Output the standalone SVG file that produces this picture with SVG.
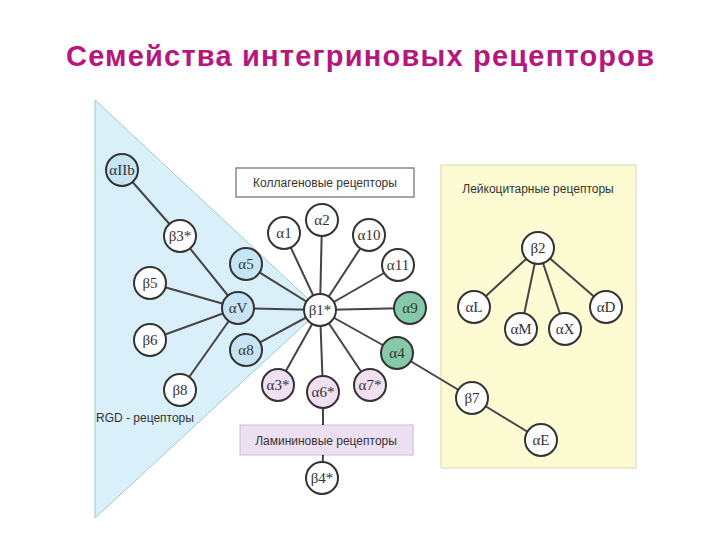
<svg xmlns="http://www.w3.org/2000/svg" width="720" height="540" viewBox="0 0 720 540">
<style>
.n circle{stroke:#333;stroke-width:2;fill:#fff}
.b circle{fill:#c6e4f4}
.g circle{fill:#86c9a9}
.p circle{fill:#f1dff2}
.n text{font-family:"Liberation Serif",serif;font-size:15px;text-anchor:middle;fill:#333}
.lbl{font-family:"Liberation Sans",sans-serif;font-size:12px;fill:#333}
#edges line{stroke:#444;stroke-width:2}
</style>
<rect width="720" height="540" fill="#fff"/>
<text x="360" y="66" text-anchor="middle" font-family="Liberation Sans,sans-serif" font-weight="bold" font-size="29" fill="#b5177c" textLength="588">Семейства интегриновых рецепторов</text>
<polygon points="95,100 320,310 95,518" fill="#d9effa" stroke="#9fc9c9" stroke-width="1"/>
<rect x="441" y="165" width="195" height="303" fill="#fdfbd2" stroke="#d8d8b8"/>
<g id="collagen"><rect x="236" y="168" width="178" height="29" fill="#fff" stroke="#888" stroke-width="1.5"/><text class="lbl" x="325" y="187" text-anchor="middle">Коллагеновые рецепторы</text></g>
<g id="laminin"><rect x="240" y="425" width="173" height="30" fill="#ece0f2" stroke="#cbbcd6"/><text class="lbl" x="326" y="445" text-anchor="middle">Ламининовые рецепторы</text></g>
<text class="lbl" x="538" y="193" text-anchor="middle">Лейкоцитарные рецепторы</text>
<text class="lbl" x="96" y="422">RGD - рецепторы</text>
<g id="edges">
<line x1="122" y1="170" x2="180" y2="236"/><line x1="180" y1="236" x2="238" y2="308"/>
<line x1="150" y1="283" x2="238" y2="308"/><line x1="150" y1="340" x2="238" y2="308"/>
<line x1="180" y1="390" x2="238" y2="308"/><line x1="238" y1="308" x2="320" y2="310"/>
<line x1="246" y1="264" x2="320" y2="310"/><line x1="246" y1="350" x2="320" y2="310"/>
<line x1="284" y1="233" x2="320" y2="310"/><line x1="322" y1="220" x2="320" y2="310"/>
<line x1="369" y1="235" x2="320" y2="310"/><line x1="398" y1="265" x2="320" y2="310"/>
<line x1="410" y1="308" x2="320" y2="310"/><line x1="397" y1="353" x2="320" y2="310"/>
<line x1="278" y1="385" x2="320" y2="310"/><line x1="323" y1="392" x2="320" y2="310"/>
<line x1="370" y1="385" x2="320" y2="310"/><line x1="323" y1="392" x2="323" y2="425"/>
<line x1="323" y1="455" x2="322" y2="478"/>
<line x1="397" y1="353" x2="472" y2="398"/><line x1="472" y1="398" x2="541" y2="440"/>
<line x1="538" y1="248" x2="474" y2="307"/><line x1="538" y1="248" x2="521" y2="329"/>
<line x1="538" y1="248" x2="565" y2="329"/><line x1="538" y1="248" x2="606" y2="307"/>
</g>
<g id="aIIb" class="n b"><circle cx="122" cy="170" r="16"/><text x="122" y="175" font-size="12">αIIb</text></g>
<g id="b3" class="n"><circle cx="180" cy="236" r="16"/><text x="180" y="241">β3*</text></g>
<g id="b5" class="n"><circle cx="150" cy="283" r="16"/><text x="150" y="288">β5</text></g>
<g id="b6" class="n"><circle cx="150" cy="340" r="16"/><text x="150" y="345">β6</text></g>
<g id="b8" class="n"><circle cx="180" cy="390" r="16"/><text x="180" y="395">β8</text></g>
<g id="aV" class="n b"><circle cx="238" cy="308" r="16"/><text x="238" y="313">αV</text></g>
<g id="a5" class="n b"><circle cx="246" cy="264" r="16"/><text x="246" y="269">α5</text></g>
<g id="a8" class="n b"><circle cx="246" cy="350" r="16"/><text x="246" y="355">α8</text></g>
<g id="b1" class="n"><circle cx="320" cy="310" r="16"/><text x="320" y="315">β1*</text></g>
<g id="a1" class="n"><circle cx="284" cy="233" r="16"/><text x="284" y="238">α1</text></g>
<g id="a2" class="n"><circle cx="322" cy="220" r="16"/><text x="322" y="225">α2</text></g>
<g id="a10" class="n"><circle cx="369" cy="235" r="16"/><text x="369" y="240">α10</text></g>
<g id="a11" class="n"><circle cx="398" cy="265" r="16"/><text x="398" y="270">α11</text></g>
<g id="a9" class="n g"><circle cx="410" cy="308" r="16"/><text x="410" y="313">α9</text></g>
<g id="a4" class="n g"><circle cx="397" cy="353" r="16"/><text x="397" y="358">α4</text></g>
<g id="a3" class="n p"><circle cx="278" cy="385" r="16"/><text x="278" y="390">α3*</text></g>
<g id="a6" class="n p"><circle cx="323" cy="392" r="16"/><text x="323" y="397">α6*</text></g>
<g id="a7" class="n p"><circle cx="370" cy="385" r="16"/><text x="370" y="390">α7*</text></g>
<g id="b4" class="n"><circle cx="322" cy="478" r="16"/><text x="322" y="483">β4*</text></g>
<g id="b2" class="n"><circle cx="538" cy="248" r="16"/><text x="538" y="253">β2</text></g>
<g id="aL" class="n"><circle cx="474" cy="307" r="16"/><text x="474" y="312">αL</text></g>
<g id="aM" class="n"><circle cx="521" cy="329" r="16"/><text x="521" y="334">αM</text></g>
<g id="aX" class="n"><circle cx="565" cy="329" r="16"/><text x="565" y="334">αX</text></g>
<g id="aD" class="n"><circle cx="606" cy="307" r="16"/><text x="606" y="312">αD</text></g>
<g id="b7" class="n"><circle cx="472" cy="398" r="16"/><text x="472" y="403">β7</text></g>
<g id="aE" class="n"><circle cx="541" cy="440" r="16"/><text x="541" y="445">αE</text></g>
</svg>
